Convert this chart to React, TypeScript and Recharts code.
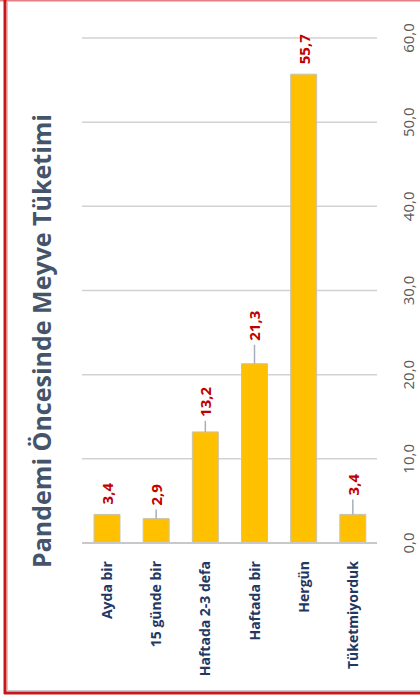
import { BarChart, Bar, XAxis, YAxis, CartesianGrid, LabelList } from "recharts";

const categories = [
  "Ayda bir",
  "15 günde bir",
  "Haftada 2-3 defa",
  "Haftada bir",
  "Hergün",
  "Tüketmiyorduk",
];
const values = [3.4, 2.9, 13.2, 21.3, 55.7, 3.4];
const valueTicks = [0, 10, 20, 30, 40, 50, 60];
const title = "Pandemi Öncesinde Meyve Tüketimi";

// how far each value label sits above its bar (px); larger ones get a leader line
const labelLift = [10, 13, 15, 23, 10, 19];

const data = categories.map((name, i) => ({ name, value: values[i] }));

const FONT = "'Open Sans', sans-serif";
const fmt = (v: number) => v.toFixed(1).replace(".", ",");

const CategoryTick = ({ x, y, payload }: any) => (
  <text
    x={x}
    y={y + 10}
    transform={`rotate(-90, ${x}, ${y + 10})`}
    textAnchor="end"
    dominantBaseline="central"
    fontFamily={FONT}
    fontWeight={700}
    fontSize={14}
    fill="#1F3864"
  >
    {payload.value}
  </text>
);

const ValueTick = ({ x, y, payload }: any) => (
  <text
    x={x + 23}
    y={y}
    transform={`rotate(-90, ${x + 23}, ${y})`}
    textAnchor="middle"
    dominantBaseline="central"
    fontFamily={FONT}
    fontSize={15}
    fill="#595959"
  >
    {fmt(payload.value)}
  </text>
);

const ValueLabel = ({ x, y, width, value, index }: any) => {
  const cx = x + width / 2;
  const lift = labelLift[index] ?? 10;
  const ty = y - lift;
  return (
    <g>
      {lift > 10 && (
        <line x1={cx} x2={cx} y1={y} y2={y - lift + 4} stroke="#A6AFBA" strokeWidth={1.5} />
      )}
      <text
        x={cx}
        y={ty}
        transform={`rotate(-90, ${cx}, ${ty})`}
        textAnchor="start"
        dominantBaseline="central"
        fontFamily={FONT}
        fontWeight={700}
        fontSize={15}
        fill="#C00000"
      >
        {fmt(value)}
      </text>
    </g>
  );
};

export default function App() {
  return (
    <div style={{ position: "absolute", left: 0, top: 0, width: 420, height: 698, background: "#fff" }}>
      <BarChart
        width={420}
        height={698}
        data={data}
        margin={{ top: 38, right: 0, left: 82, bottom: 0 }}
        barSize={26}
      >
        <CartesianGrid vertical={false} stroke="#D2D2D2" strokeWidth={1.5} />
        <XAxis
          dataKey="name"
          height={155}
          interval={0}
          tickLine={false}
          axisLine={{ stroke: "#C8C8C8", strokeWidth: 2 }}
          tick={<CategoryTick />}
        />
        <YAxis
          orientation="right"
          width={43}
          domain={[0, 60]}
          ticks={valueTicks}
          axisLine={false}
          tickLine={false}
          tick={<ValueTick />}
        />
        <Bar dataKey="value" fill="#FFC000" stroke="#C9C3B0" strokeWidth={1} isAnimationActive={false}>
          <LabelList dataKey="value" content={<ValueLabel />} />
        </Bar>
      </BarChart>
      <svg
        width={420}
        height={698}
        style={{ position: "absolute", left: 0, top: 0, pointerEvents: "none" }}
      >
        <text
          x={41}
          y={341}
          transform="rotate(-90, 41, 341)"
          textAnchor="middle"
          dominantBaseline="central"
          fontFamily={FONT}
          fontWeight={700}
          fontSize={25}
          fill="#44546A"
        >
          {title}
        </text>
        <line x1={0} x2={420} y1={0.5} y2={0.5} stroke="#E57F84" strokeWidth={2} />
        <line x1={5} x2={5} y1={0} y2={694} stroke="#C8161D" strokeWidth={3} />
        <line x1={7.5} x2={7.5} y1={2} y2={691} stroke="#C9C9C9" strokeWidth={1} />
        <line x1={4} x2={420} y1={693} y2={693} stroke="#C8161D" strokeWidth={3} />
        <line x1={8} x2={420} y1={690.5} y2={690.5} stroke="#C9C9C9" strokeWidth={1} />
      </svg>
    </div>
  );
}
